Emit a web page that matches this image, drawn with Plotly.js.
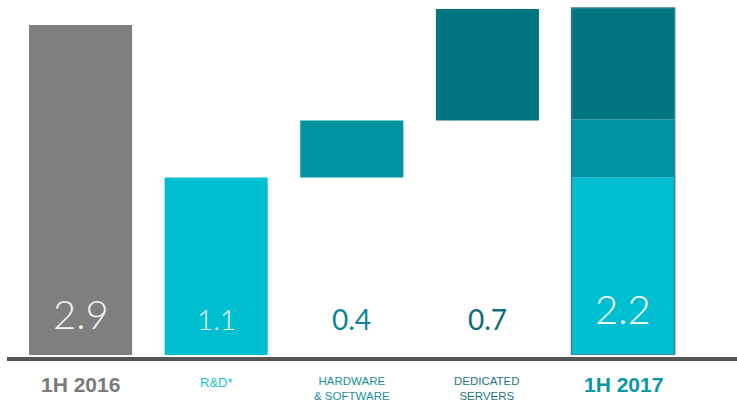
<!DOCTYPE html>
<html>
<head>
<meta charset="utf-8">
<script src="https://cdn.plot.ly/plotly-3.0.1.min.js"></script>
<style>html,body{margin:0;padding:0;background:#fff;}#chart{width:737px;height:401px;}</style>
</head>
<body>
<div id="chart"></div>
<script>
// Categories and their labels
const categories = ['1H 2016', 'R&D*', 'HARDWARE<br>& SOFTWARE', 'DEDICATED<br>SERVERS', '1H 2017'];
// Values printed on the chart (EUR m)
const values = [2.9, 1.1, 0.4, 0.7, 2.2];
// Drawn bar extents (the original is not to scale)
const startHeight = [2.90];            // 1H 2016
const rdHeight = [1.56, 1.56];         // R&D*, and its share in 1H 2017
const hwHeight = [0.50, 0.51];         // Hardware & software, and its share in 1H 2017
const dsHeight = [0.98, 0.98];         // Dedicated servers, and its share in 1H 2017

const C = {gray:'#7f7f7f', cyan:'#00bfd1', mid:'#0093a1', dark:'#007780', edge:'#3f7a92'};
const W = 0.76;
const idx = c => categories.indexOf(c);

const hwBase = [rdHeight[0], rdHeight[1]];
const dsBase = [rdHeight[0] + hwHeight[0], rdHeight[1] + hwHeight[1]];
const endTotal = rdHeight[1] + hwHeight[1] + dsHeight[1];

const traces = [
  {type:'bar', x:[idx('1H 2016')], y:startHeight, base:[0], width:W, marker:{color:C.gray}},
  {type:'bar', x:[idx('R&D*'), idx('1H 2017')], y:rdHeight, base:[0,0], width:W, marker:{color:C.cyan}},
  {type:'bar', x:[idx('HARDWARE<br>& SOFTWARE'), idx('1H 2017')], y:hwHeight, base:hwBase, width:W, marker:{color:C.mid}},
  {type:'bar', x:[idx('DEDICATED<br>SERVERS'), idx('1H 2017')], y:dsHeight, base:dsBase, width:W, marker:{color:C.dark}},
  {type:'bar', x:[idx('1H 2017')], y:[endTotal], base:[0], width:W,
   marker:{color:'rgba(0,0,0,0)', line:{color:C.edge, width:1.5}}}
];
traces.forEach(t => { t.hoverinfo = 'skip'; t.showlegend = false; });

// value labels
const valStyle = [
  {color:'#f2f2f2', size:40, y:0.36, weight:300},
  {color:'#f2f2f2', size:28, y:0.32, weight:300},
  {color:'#0b8793', size:28, y:0.32, weight:400},
  {color:'#0e6c74', size:28, y:0.32, weight:400},
  {color:'#ffffff', size:40, y:0.40, weight:300}
];
const annotations = values.map((v,i) => ({
  x:i, y:valStyle[i].y, xref:'x', yref:'y', text:v.toFixed(1), showarrow:false,
  font:{family:'Lato, "Open Sans", sans-serif', size:valStyle[i].size, color:valStyle[i].color, weight:valStyle[i].weight},
  xanchor:'center', yanchor:'middle'
}));
// category labels
const catStyle = [
  {color:'#7a7a7a', size:21, bold:true, y:-0.082},
  {color:'#22c3d5', size:13, bold:false, y:-0.077},
  {color:'#198f9b', size:11.5, bold:false, y:-0.095},
  {color:'#1c7880', size:11.5, bold:false, y:-0.095},
  {color:'#0a97a6', size:21, bold:true, y:-0.082}
];
categories.forEach((c,i) => {
  const s = catStyle[i];
  annotations.push({
    x:i, y:s.y, xref:'x', yref:'paper', text: s.bold ? '<b>'+c+'</b>' : c, showarrow:false,
    font:{family:'"Liberation Sans", Arial, sans-serif', size:s.size, color:s.color},
    xanchor:'center', yanchor:'middle', align:'center'
  });
});

const layout = {
  width:737, height:401,
  margin:{l:0, r:0, t:0, b:46},
  paper_bgcolor:'#ffffff', plot_bgcolor:'#ffffff',
  barmode:'overlay',
  xaxis:{range:[-0.594, 4.84], showgrid:false, zeroline:false, showticklabels:false, showline:false, fixedrange:true},
  yaxis:{range:[0, 3.12], showgrid:false, zeroline:false, showticklabels:false, showline:false, fixedrange:true},
  shapes:[{type:'line', xref:'paper', yref:'paper', x0:7/737, x1:1, y0:-0.0113, y1:-0.0113,
           line:{color:'#555555', width:4}}],
  annotations:annotations
};
Plotly.newPlot('chart', traces, layout, {displayModeBar:false, staticPlot:true});
</script>
</body>
</html>
